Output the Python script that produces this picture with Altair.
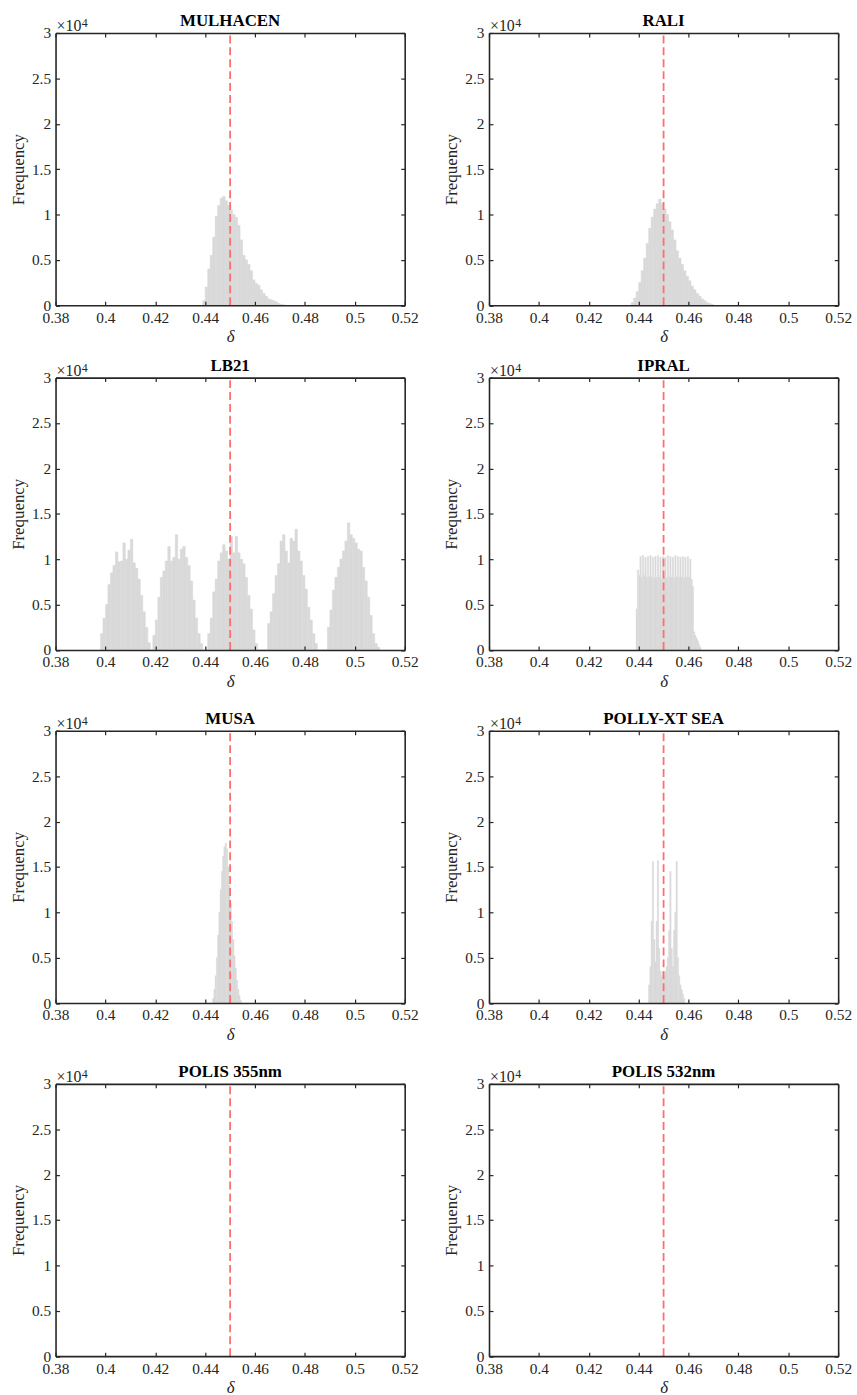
import altair as alt
import numpy as np
import pandas as pd

# ---------------- data (frequencies in units of 10^4) ----------------
TITLES = ["MULHACEN", "RALI", "LB21", "IPRAL", "MUSA", "POLLY-XT SEA", "POLIS 355nm", "POLIS 532nm"]
DELTA_REF = 0.45
X_TICKS = [0.38, 0.40, 0.42, 0.44, 0.46, 0.48, 0.50, 0.52]
Y_TICKS = [0, 0.5, 1, 1.5, 2, 2.5, 3]

MULHACEN_START, MULHACEN_WIDTH = 0.439, 0.001
MULHACEN_FREQ = [0.05, 0.2, 0.4, 0.55, 0.75, 0.98, 1.1, 1.18, 1.2, 1.15, 1.1, 1.05, 1.0, 0.97,
                 0.88, 0.72, 0.55, 0.5, 0.45, 0.38, 0.28, 0.24, 0.22, 0.17, 0.13, 0.1, 0.07,
                 0.06, 0.05, 0.04, 0.02, 0.01, 0.005]

RALI_START, RALI_WIDTH = 0.437, 0.001
RALI_FREQ = [0.03, 0.08, 0.15, 0.25, 0.38, 0.52, 0.68, 0.85, 0.97, 1.06, 1.12, 1.17, 1.12, 1.06,
             1.0, 0.92, 0.83, 0.72, 0.6, 0.52, 0.45, 0.38, 0.32, 0.27, 0.21, 0.17, 0.13, 0.1,
             0.07, 0.05, 0.03, 0.02, 0.01]

LB21_START, LB21_WIDTH = 0.398, 0.001
LB21_FREQ = [0.18, 0.35, 0.5, 0.72, 0.85, 0.93, 1.08, 0.97, 0.98, 1.18, 1.0, 1.1, 1.22, 0.96, 0.9,
             0.78, 0.6, 0.42, 0.25, 0.08,
             0.0,
             0.16, 0.33, 0.58, 0.8, 0.87, 0.98, 1.14, 0.98, 1.02, 1.27, 1.0, 1.11, 1.14, 1.02, 0.93,
             0.76, 0.55, 0.35, 0.18, 0.07,
             0.0, 0.0,
             0.18, 0.35, 0.64, 0.78, 0.98, 1.07, 1.16, 1.09, 1.0, 1.25, 1.07, 1.25, 1.07, 1.0, 0.95,
             0.8, 0.6, 0.45, 0.22, 0.07,
             0.0, 0.0, 0.0, 0.0,
             0.29, 0.42, 0.62, 0.82, 0.95, 1.2, 1.27, 1.09, 0.96, 1.23, 1.2, 1.33, 1.09, 0.98, 0.82,
             0.67, 0.47, 0.33, 0.18, 0.07,
             0.0, 0.0, 0.0, 0.0,
             0.25, 0.44, 0.66, 0.8, 0.91, 1.0, 1.09, 1.2, 1.4, 1.27, 1.23, 1.18, 1.11, 1.09, 0.91,
             0.76, 0.58, 0.38, 0.18, 0.07, 0.03]

IPRAL_START, IPRAL_WIDTH = 0.439, 0.0005
IPRAL_FREQ = [0.45, 0.88, 0.82, 1.03, 0.8, 1.04, 0.82, 1.02, 0.8, 1.03, 0.81, 1.04, 0.8, 1.02,
              0.79, 1.03, 0.8, 1.04, 0.8, 1.02, 0.78, 1.03, 0.8, 1.02, 0.79, 1.04, 0.8, 1.03,
              0.8, 1.02, 0.79, 1.04, 0.8, 1.03, 0.8, 1.02, 0.8, 1.03, 0.79, 1.02, 0.8, 1.03,
              0.8, 1.0, 0.78, 0.7, 0.2, 0.16, 0.13, 0.1, 0.06, 0.03]

MUSA_START, MUSA_WIDTH = 0.443, 0.0005
MUSA_FREQ = [0.05, 0.15, 0.3, 0.5, 0.75, 1.0, 1.25, 1.45, 1.62, 1.72, 1.76, 1.7, 1.5, 1.3, 1.1,
             0.9, 0.7, 0.52, 0.38, 0.25, 0.15, 0.08, 0.03]

POLLY_START, POLLY_WIDTH = 0.444, 0.0005
POLLY_FREQ = [0.2, 0.4, 0.9, 1.56, 0.7, 0.45, 0.9, 1.57, 0.6, 0.35, 0.3, 0.35, 0.3, 0.35, 0.4,
              0.5, 0.8, 1.45, 0.6, 0.4, 0.8, 1.0, 1.56, 0.5, 0.3, 0.2, 0.15, 0.1, 0.05]

POLIS355_START, POLIS355_WIDTH = 0.44, 0.001
POLIS355_FREQ = []
POLIS532_START, POLIS532_WIDTH = 0.44, 0.001
POLIS532_FREQ = []

PANELS = [
    (MULHACEN_START, MULHACEN_WIDTH, MULHACEN_FREQ),
    (RALI_START, RALI_WIDTH, RALI_FREQ),
    (LB21_START, LB21_WIDTH, LB21_FREQ),
    (IPRAL_START, IPRAL_WIDTH, IPRAL_FREQ),
    (MUSA_START, MUSA_WIDTH, MUSA_FREQ),
    (POLLY_START, POLLY_WIDTH, POLLY_FREQ),
    (POLIS355_START, POLIS355_WIDTH, POLIS355_FREQ),
    (POLIS532_START, POLIS532_WIDTH, POLIS532_FREQ),
]

# ---------------- styling ----------------
FONT = "Liberation Serif"
INK = "#262626"
BAR = "#d9d9d9"
RED = "#ff6f6f"
W, H = 352, 274.5


def ax(**kw):
    return alt.Axis(domain=True, domainColor=INK, domainWidth=1.6, ticks=True, tickColor=INK,
                    tickWidth=1.2, tickSize={"expr": "-4"}, grid=False, zindex=2,
                    labelFlush=False, labelOverlap=False, **kw)


def panel(title, start, width, freq):
    lo = start + width * np.arange(len(freq))
    df = pd.DataFrame({"lo": lo, "hi": lo + width, "f": np.array(freq, dtype=float)})
    xs = alt.Scale(domain=[0.38, 0.52], nice=False, zero=False)
    ys = alt.Scale(domain=[0, 3], nice=False, zero=True)
    bars = alt.Chart(df).mark_rect(color=BAR, stroke=BAR, strokeWidth=0.5, opacity=1).encode(
        x=alt.X("lo:Q", scale=xs, title="δ",
                axis=ax(orient="bottom", values=X_TICKS, format="~g", labelPadding=9,
                        titleFontStyle="italic", titlePadding=3)),
        x2="hi:Q",
        y=alt.Y("f:Q", scale=ys, title="Frequency",
                axis=ax(orient="left", values=Y_TICKS, format="~g", labelPadding=9,
                        titlePadding=4)),
        y2=alt.datum(0),
    )
    ref = pd.DataFrame({"d": [DELTA_REF], "y0": [0.0], "y1": [3.0]})
    rule = alt.Chart(ref).mark_rule(color=RED, strokeDash=[8, 4], strokeWidth=1.8).encode(
        x=alt.X("d:Q", scale=xs, title=None,
                axis=ax(orient="top", values=X_TICKS, labels=False)),
        y=alt.Y("y0:Q", scale=ys, title=None,
                axis=ax(orient="right", values=Y_TICKS, labels=False)),
        y2="y1:Q",
    )
    head = alt.Chart(pd.DataFrame({"t": [title]})).mark_text(
        align="center", baseline="alphabetic", font=FONT, fontSize=17, fontWeight="bold",
        color="#000000"
    ).encode(text="t:N", x=alt.value(W / 2), y=alt.value(-7))
    exp_base = alt.Chart(pd.DataFrame({"t": ["×10"]})).mark_text(
        align="left", baseline="alphabetic", font=FONT, fontSize=16, color=INK
    ).encode(text="t:N", x=alt.value(1), y=alt.value(-2))
    exp_sup = alt.Chart(pd.DataFrame({"t": ["4"]})).mark_text(
        align="left", baseline="alphabetic", font=FONT, fontSize=12, color=INK
    ).encode(text="t:N", x=alt.value(26.5), y=alt.value(-6))
    return alt.layer(bars, rule, head, exp_base, exp_sup).resolve_axis(
        x="independent", y="independent"
    ).properties(width=W, height=H)


charts = [panel(t, *p) for t, p in zip(TITLES, PANELS)]

top_row = alt.concat(charts[0], charts[1], columns=2, spacing=85, bounds="flush")
rest = alt.concat(*charts[2:], columns=2, spacing={"row": 81, "column": 85}, bounds="flush")

chart = alt.vconcat(top_row, rest, spacing=12.5).properties(
    padding={"left": 9, "top": 6.5, "right": 5, "bottom": 5},
    background="white",
).configure_view(strokeWidth=0).configure_axis(
    labelFont=FONT, labelFontSize=15.5, labelColor=INK,
    titleFont=FONT, titleFontSize=17, titleColor=INK, titleFontWeight="normal",
)

chart.save("out.html", embed_options={"renderer": "svg", "actions": False})
